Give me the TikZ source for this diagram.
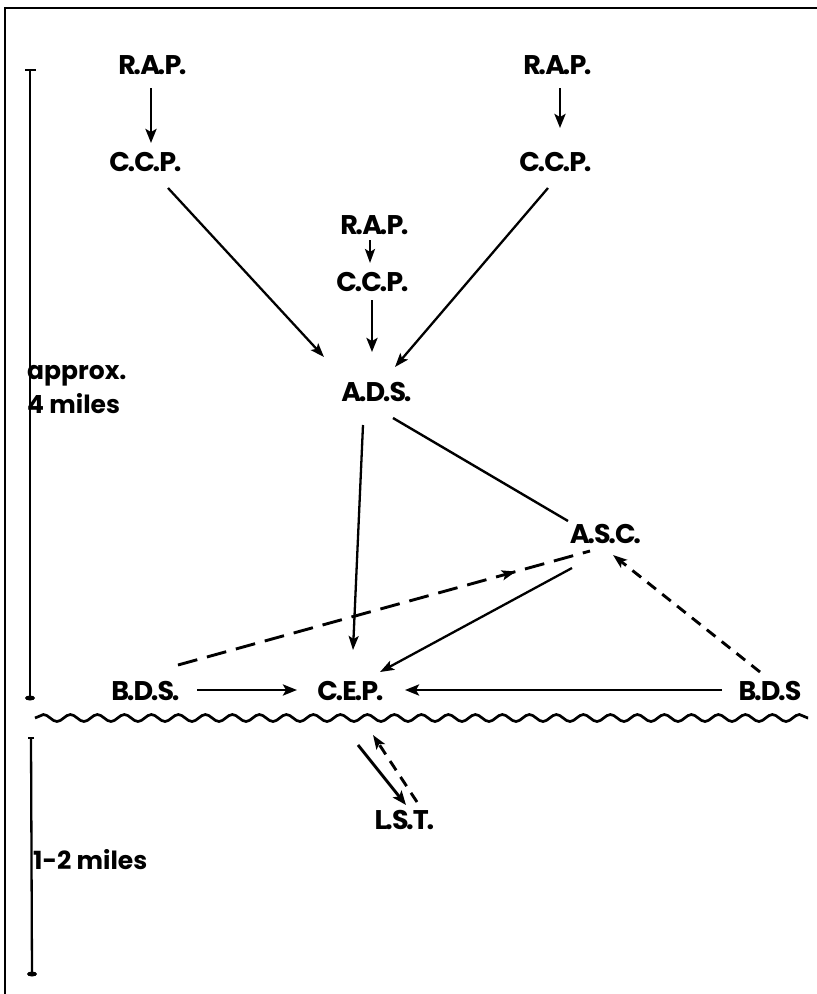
\documentclass[tikz,border=0pt]{standalone}
\usepackage{fontspec}
\setmainfont{Poppins}
\usetikzlibrary{arrows.meta,calc,decorations.pathmorphing,decorations.markings}
\newcommand\dt{\kern-0.09em.\kern-0.03em}
\begin{document}
\begin{tikzpicture}[x=1pt,y=-1pt,
  lbl/.style={font=\fontsize{27}{30}\selectfont\bfseries, inner sep=2pt},
  side/.style={font=\fontsize{25}{28}\selectfont\bfseries, inner sep=0pt, anchor=base west},
  arr/.style={line width=2.3pt, -{Stealth[length=14pt,width=10pt,inset=3pt]}},
  thickarr/.style={line width=2.9pt, -{Stealth[length=14pt,width=11pt,inset=3pt]}},
  plain/.style={line width=2.4pt},
  longdash/.style={line width=2.9pt, dash pattern=on 20pt off 10pt},
  shortdash/.style={line width=2.9pt, dash pattern=on 11pt off 8pt},
  frame/.style={line width=2.4pt},
  scalebar/.style={line width=2.3pt}]
\useasboundingbox (0,0) rectangle (817,994);
% frame
\draw[frame] (4,8) -- (817,8);
\draw[frame] (5,8) -- (5,994);
% scale bars
\draw[scalebar] (30,70) -- (30,698);
\draw[scalebar] (25,70) -- (36,70);
\fill (30,698) ellipse (5pt and 2.5pt);
\draw[scalebar] (31,738) -- (32,974);
\draw[scalebar] (28,738) -- (34,738);
\fill (32,974) ellipse (5pt and 2.5pt);
\node[side] (apx) at (27,379) {approx.};
\node[side] (four) at (27,413) {4 miles};
\node[side] (onetwo) at (33,869) {1-2 miles};
% nodes
\node[lbl] (rap1) at (152,65) {R\dt A\dt P\dt};
\node[lbl] (ccp1) at (145,162) {C\dt C\dt P\dt};
\node[lbl] (rap2) at (557,65) {R\dt A\dt P\dt};
\node[lbl] (ccp2) at (555,162) {C\dt C\dt P\dt};
\node[lbl] (rap3) at (374,225) {R\dt A\dt P\dt};
\node[lbl] (ccp3) at (372,282) {C\dt C\dt P\dt};
\node[lbl] (ads) at (376,392) {A\dt D\dt S\dt};
\node[lbl] (asc) at (605,534) {A\dt S\dt C\dt};
\node[lbl] (bds1) at (145,691) {B\dt D\dt S\dt};
\node[lbl] (cep) at (350,691) {C\dt E\dt P\dt};
\node[lbl] (bds2) at (770,691) {B\dt D\dt S};
\node[lbl] (lst) at (404,820) {L\dt S\dt T\dt};
% connectors
\draw[thickarr] ($(rap1)+(-1,23)$) -- ($(ccp1)+(6,-19)$);
\draw[thickarr] ($(rap2)+(3,23)$) -- ($(ccp2)+(5,-34)$);
\draw[arr] ($(rap3)+(-4,15)$) -- ($(ccp3)+(-2,-19)$);
\draw[thickarr] ($(ccp3)+(0,18)$) -- ($(ads)+(-4,-40)$);
\draw[arr] ($(ccp1)+(23,26)$) -- ($(ads)+(-52,-35)$);
\draw[arr] ($(ccp2)+(-7,26)$) -- ($(ads)+(19,-25)$);
\draw[plain] ($(ads)+(17,26)$) -- ($(asc)+(-37,-13)$);
\draw[arr] ($(ads)+(-13,33)$) -- ($(cep)+(3,-41)$);
\draw[arr] ($(asc)+(-33,34)$) -- ($(cep)+(30,-19)$);
\draw[longdash, decoration={markings, mark=at position 0.82 with {\arrow[line width=2.3pt]{Stealth[length=14pt,width=10pt,inset=3pt]}}}, postaction={decorate}]
  ($(bds1)+(33,-26)$) -- ($(asc)+(-15,17)$);
\draw[shortdash, -{Stealth[length=14pt,width=10pt,inset=3pt]}] ($(bds2)+(-10,-19)$) -- ($(asc)+(8,21)$);
\draw[thickarr] ($(bds1)+(52,-1)$) -- ($(cep)+(-53,-1)$);
\draw[thickarr] ($(bds2)+(-48,-1)$) -- ($(cep)+(55,-1)$);
% wavy line
\draw[line width=2.7pt, decorate, decoration={snake, amplitude=3.5pt, segment length=27pt}] (35,718) -- (808,718);
\draw[thickarr] ($(cep)+(8,54)$) -- ($(lst)+(2,-15)$);
\draw[shortdash, -{Stealth[length=14pt,width=10pt,inset=3pt]}] ($(lst)+(13,-18)$) -- ($(cep)+(23,44)$);
\end{tikzpicture}
\end{document}
